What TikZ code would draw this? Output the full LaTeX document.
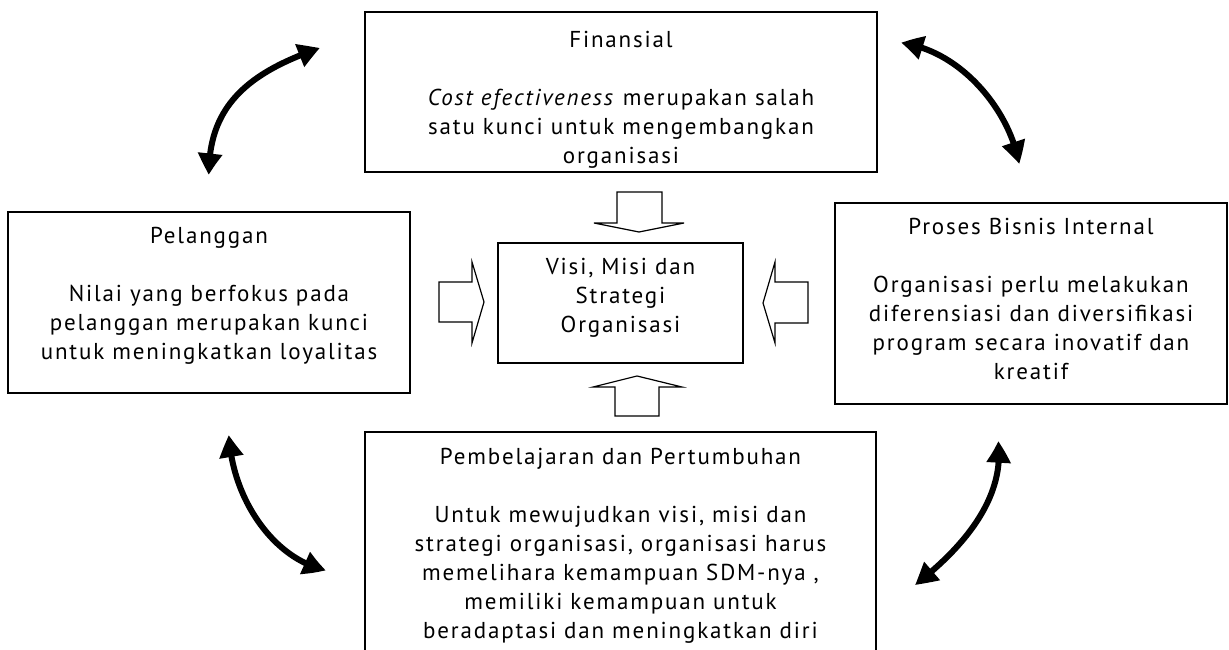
\documentclass[tikz,border=0pt]{standalone}
\usepackage{fontspec}
\setmainfont{PT Sans}[LetterSpace=8]
\usetikzlibrary{arrows.meta,bending}
\begin{document}
\begin{tikzpicture}[x=1pt,y=-1pt,
  box/.style={draw, line width=1.3pt, inner sep=0pt},
  txt/.style={align=center, inner sep=0pt, anchor=north, font=\fontsize{23}{29}\selectfont},
  blk/.style={draw, line width=1.2pt, fill=white, line join=miter},
  twoway/.style={line width=6pt, {Triangle[length=22pt,width=23pt,bend]}-{Triangle[length=22pt,width=23pt,bend]}}
]
\useasboundingbox (0,0) rectangle (1229,650);
\clip (0,0) rectangle (1229,650);
\fill[white] (0,0) rectangle (1229,650);

% boxes
\node[box, minimum width=512pt, minimum height=160pt] (fin) at (621,92) {};
\node[box, minimum width=402pt, minimum height=181pt] (pel) at (209,302.5) {};
\node[box, minimum width=392pt, minimum height=201pt] (pro) at (1031,303.5) {};
\node[box, minimum width=245pt, minimum height=120pt] (vis) at (620.5,303) {};
\node[box, minimum width=511pt, minimum height=268pt] (pem) at (620.5,566) {};

% texts
\node[txt] (fint) at (621,27) {\strut Finansial\\[29pt]\textit{Cost efectiveness} merupakan salah\\satu kunci untuk mengembangkan\\organisasi};
\node[txt] (pelt) at (209,223) {\strut Pelanggan\\[29pt]Nilai yang berfokus pada\\pelanggan merupakan kunci\\untuk meningkatkan loyalitas};
\node[txt] (prot) at (1031,214) {\strut Proses Bisnis Internal\\[29pt]Organisasi perlu melakukan\\diferensiasi dan diversifikasi\\program secara inovatif dan\\kreatif};
\node[txt] (vist) at (620.5,254) {\strut Visi, Misi dan\\Strategi\\Organisasi};
\node[txt] (pemt) at (620.5,444) {\strut Pembelajaran dan Pertumbuhan\\[29pt]Untuk mewujudkan visi, misi dan\\strategi organisasi, organisasi harus\\memelihara kemampuan SDM-nya ,\\memiliki kemampuan untuk\\beradaptasi dan meningkatkan diri};

% block arrows
\draw[blk] (617,192) -- (662,192) -- (662,223) -- (684,223) -- (639,232) -- (594,223) -- (617,223) -- cycle;
\draw[blk] (615,416) -- (659,416) -- (659,387) -- (682,387) -- (637,376) -- (593,387) -- (615,387) -- cycle;
\draw[blk] (808,282) -- (808,323) -- (775,323) -- (775,343) -- (763,303) -- (775,262) -- (775,282) -- cycle;
\draw[blk] (439,282) -- (439,322) -- (472,322) -- (472,343) -- (484,302) -- (472,262) -- (472,282) -- cycle;

% curved two-way arrows
\coordinate (tl1) at (209,175); \coordinate (tl2) at (320,48);
\coordinate (tr1) at (901,43);  \coordinate (tr2) at (1019,164);
\coordinate (bl1) at (229,435); \coordinate (bl2) at (326,570);
\coordinate (br1) at (998,441); \coordinate (br2) at (915,585);
\draw[twoway] (tl1) .. controls (208,105) and (250,72) .. (tl2);
\draw[twoway] (tr1) .. controls (960,50) and (1010,110) .. (tr2);
\draw[twoway] (bl1) .. controls (232,500) and (275,560) .. (bl2);
\draw[twoway] (br1) .. controls (1006,500) and (960,550) .. (br2);
\end{tikzpicture}
\end{document}
